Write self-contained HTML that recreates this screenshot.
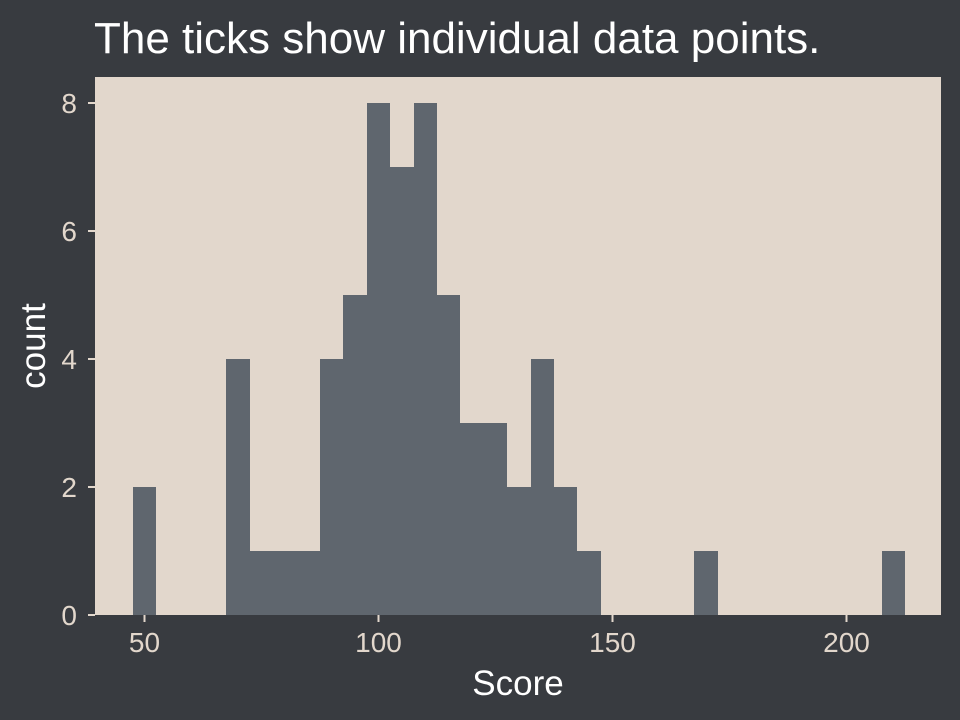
<!DOCTYPE html>
<html><head><meta charset="utf-8"><style>
body{margin:0;background:#383b40;}
svg{display:block;font-family:"Liberation Sans",sans-serif;}
</style></head><body>
<svg id="c" width="960" height="720">
<rect width="960" height="720" fill="#383b40"/>
<text x="94" y="53" style="font-size:44px" fill="#ffffff">The ticks show individual data points.</text>
<rect x="95" y="77" width="846" height="538" fill="#e2d7cc"/>
<g id="bars" shape-rendering="crispEdges"></g><g id="axes"></g>
<text x="518" y="695" style="font-size:35px" fill="#ffffff" text-anchor="middle">Score</text>
<text transform="translate(45,346) rotate(-90)" style="font-size:35px" fill="#ffffff" text-anchor="middle">count</text>
</svg>
<script>
const binCenters=[50,70,75,80,85,90,95,100,105,110,115,120,125,130,135,140,145,170,210];
const counts=[2,4,1,1,1,4,5,8,7,8,5,3,3,2,4,2,1,1,1];
const xTicks=[50,100,150,200];
const yTicks=[0,2,4,6,8];
const binWidth=5;
const ns="http://www.w3.org/2000/svg";
const xs=v=>144.5+(v-50)*4.68;
const ys=v=>615-v*64;
const bars=document.getElementById('bars'),axes=document.getElementById('axes');
binCenters.forEach((c,i)=>{
 const r=document.createElementNS(ns,'rect');
 const x0=Math.round(xs(c-binWidth/2)),x1=Math.round(xs(c+binWidth/2));
 r.setAttribute('x',x0);r.setAttribute('width',x1-x0);
 r.setAttribute('y',ys(counts[i]));r.setAttribute('height',ys(0)-ys(counts[i]));
 r.setAttribute('fill','#5f666e');
 
 
 bars.appendChild(r);
});
xTicks.forEach(t=>{
 const l=document.createElementNS(ns,'line');
 l.setAttribute('x1',xs(t));l.setAttribute('x2',xs(t));l.setAttribute('y1',615);l.setAttribute('y2',622);
 l.setAttribute('stroke','#e2d7cc');l.setAttribute('stroke-width',2);
 
 
 axes.appendChild(l);
 const tx=document.createElementNS(ns,'text');
 tx.setAttribute('x',xs(t));tx.setAttribute('y',652);tx.setAttribute('text-anchor','middle');
 tx.setAttribute('style','font-size:28px');tx.setAttribute('fill','#e2d7cc');tx.textContent=t;
 
 
 axes.appendChild(tx);
});
yTicks.forEach(t=>{
 const l=document.createElementNS(ns,'line');
 l.setAttribute('x1',88);l.setAttribute('x2',95);l.setAttribute('y1',ys(t));l.setAttribute('y2',ys(t));
 l.setAttribute('stroke','#e2d7cc');l.setAttribute('stroke-width',2);
 
 
 axes.appendChild(l);
 const tx=document.createElementNS(ns,'text');
 tx.setAttribute('x',77);tx.setAttribute('y',ys(t)+10);tx.setAttribute('text-anchor','end');
 tx.setAttribute('style','font-size:28px');tx.setAttribute('fill','#e2d7cc');tx.textContent=t;
 
 
 axes.appendChild(tx);
});
</script>
</body></html>
